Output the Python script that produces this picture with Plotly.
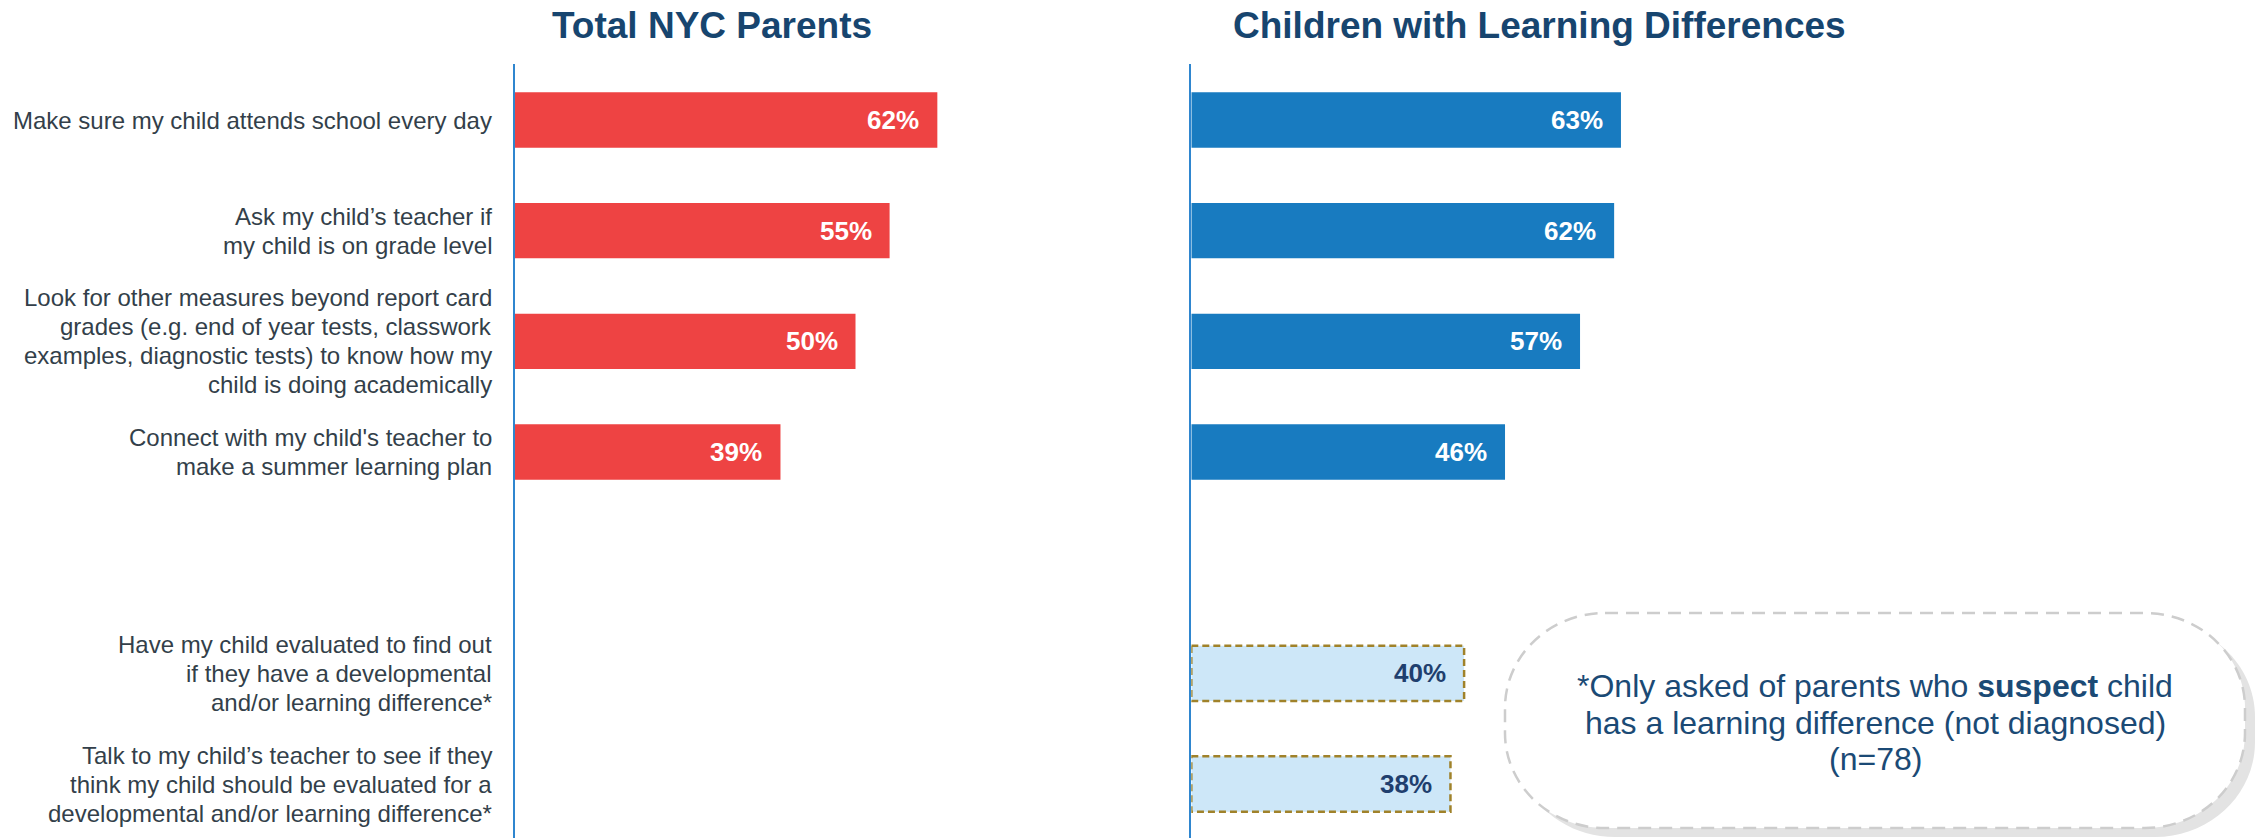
import plotly.graph_objects as go

# ---------------- data ----------------
main_categories = [
    "Make sure my child attends school every day",
    "Ask my child’s teacher if<br>my child is on grade level",
    "Look for other measures beyond report card<br>grades (e.g. end of year tests, classwork<br>examples, diagnostic tests) to know how my<br>child is doing academically",
    "Connect with my child's teacher to<br>make a summer learning plan",
]
suspect_categories = [
    "Have my child evaluated to find out<br>if they have a developmental<br>and/or learning difference*",
    "Talk to my child’s teacher to see if they<br>think my child should be evaluated for a<br>developmental and/or learning difference*",
]
total_nyc_parents = [62, 55, 50, 39]
children_ld = [63, 62, 57, 46]
suspect_values = [40, 38]

panel_titles = ["Total NYC Parents", "Children with Learning Differences"]
note_lines = [
    "*Only asked of parents who <b>suspect</b> child",
    "has a learning difference (not diagnosed)",
    "(n=78)",
]

# ---------------- styling ----------------
W, H = 2257, 838
RED = "#EE4343"
BLUE = "#187BC0"
LIGHT = "#CDE7F8"
GOLD = "#A0822A"
NAVY = "#17456F"
LABEL = "#333F4A"
AXIS = "#2F86CF"
FONT = "Arial, Liberation Sans, sans-serif"

SPACER = " "
cat_order = main_categories + [SPACER] + suspect_categories

px_per_pct = 6.82
left_x0 = 514.5
right_x0 = 1191.3
top_px = 64

def px(x):
    return x / W

def py(y):
    return 1 - y / H

fig = go.Figure()

fig.add_trace(go.Bar(
    y=main_categories, x=total_nyc_parents, orientation="h",
    marker=dict(color=RED, line=dict(width=0)), width=0.5,
    xaxis="x", yaxis="y", hoverinfo="skip", showlegend=False,
))
fig.add_trace(go.Bar(
    y=main_categories, x=children_ld, orientation="h",
    marker=dict(color=BLUE, line=dict(width=0)), width=0.5,
    xaxis="x2", yaxis="y2", hoverinfo="skip", showlegend=False,
))
fig.add_trace(go.Bar(
    y=suspect_categories, x=suspect_values, orientation="h",
    marker=dict(color=LIGHT, line=dict(width=0)), width=0.5,
    xaxis="x2", yaxis="y2", hoverinfo="skip", showlegend=False,
))

annotations = []
shapes = []

# value labels
def value_label(xref, yref, cat, v, color):
    annotations.append(dict(
        x=v, y=cat, xref=xref, yref=yref, text=f"<b>{v}%</b>",
        showarrow=False, xanchor="right", yanchor="middle", xshift=-16,
        font=dict(family=FONT, size=26, color=color),
    ))

for c, v in zip(main_categories, total_nyc_parents):
    value_label("x", "y", c, v, "white")
for c, v in zip(main_categories, children_ld):
    value_label("x2", "y2", c, v, "white")
for c, v in zip(suspect_categories, suspect_values):
    value_label("x2", "y2", c, v, "#1F3F6E")
    i = cat_order.index(c)
    shapes.append(dict(
        type="rect", xref="x2", yref="y2", x0=0, x1=v, y0=i - 0.25, y1=i + 0.25,
        line=dict(color=GOLD, width=2.5, dash="7px,4px"), fillcolor="rgba(0,0,0,0)",
        layer="above",
    ))

# category labels (per line for tight line spacing)
LINE_H = 29
for c in main_categories + suspect_categories:
    lines = c.split("<br>")
    n = len(lines)
    for k, ln in enumerate(lines):
        annotations.append(dict(
            x=px(494), y=c, xref="paper", yref="y", text=ln, showarrow=False,
            xanchor="right", yanchor="middle", yshift=((n - 1) / 2 - k) * LINE_H,
            font=dict(family=FONT, size=24, color=LABEL),
        ))

# panel titles
for t, cx in zip(panel_titles, [712, 1539]):
    annotations.append(dict(
        x=px(cx), y=py(25), xref="paper", yref="paper", text=f"<b>{t}</b>",
        showarrow=False, xanchor="center", yanchor="middle",
        font=dict(family=FONT, size=37, color=NAVY),
    ))

# callout box
def rounded_path(x0, y0, x1, y1, rx, ry):
    k = 0.5523
    def P(x, y):
        return f"{px(x):.5f},{py(y):.5f}"
    d = f"M {P(x0 + rx, y0)} L {P(x1 - rx, y0)} "
    d += f"C {P(x1 - rx + k * rx, y0)} {P(x1, y0 + ry - k * ry)} {P(x1, y0 + ry)} "
    d += f"L {P(x1, y1 - ry)} "
    d += f"C {P(x1, y1 - ry + k * ry)} {P(x1 - rx + k * rx, y1)} {P(x1 - rx, y1)} "
    d += f"L {P(x0 + rx, y1)} "
    d += f"C {P(x0 + rx - k * rx, y1)} {P(x0, y1 - ry + k * ry)} {P(x0, y1 - ry)} "
    d += f"L {P(x0, y0 + ry)} "
    d += f"C {P(x0, y0 + ry - k * ry)} {P(x0 + rx - k * rx, y0)} {P(x0 + rx, y0)} Z"
    return d

bx0, by0, bx1, by1 = 1505, 613, 2245, 828
shapes.append(dict(
    type="path", xref="paper", yref="paper",
    path=rounded_path(bx0 + 10, by0 + 9, bx1 + 10, by1 + 9, 100, 95),
    fillcolor="#E3E3E3", line=dict(width=0), layer="below",
))
shapes.append(dict(
    type="path", xref="paper", yref="paper",
    path=rounded_path(bx0, by0, bx1, by1, 100, 95),
    fillcolor="white", line=dict(color="#CDCDCD", width=2.5, dash="13px,8px"),
    layer="below",
))

for k, ln in enumerate(note_lines):
    annotations.append(dict(
        x=px(1875), y=py(686 + 36.5 * k), xref="paper", yref="paper", text=ln,
        showarrow=False, xanchor="center", yanchor="middle",
        font=dict(family=FONT, size=32, color="#1B4A75"),
    ))

# axes
y_top_idx = -(120 - top_px) / 110.67
y_bot_idx = (H - 120) / 110.67
ydom = [0, py(top_px)]
yax = dict(
    type="category", categoryorder="array", categoryarray=cat_order,
    range=[y_bot_idx, y_top_idx], domain=ydom,
    showline=True, linecolor=AXIS, linewidth=2, showticklabels=False,
    showgrid=False, zeroline=False, ticks="", fixedrange=True,
)
fig.update_layout(
    width=W, height=H,
    margin=dict(l=0, r=0, t=0, b=0),
    paper_bgcolor="white", plot_bgcolor="rgba(0,0,0,0)",
    barmode="overlay",
    xaxis=dict(domain=[px(left_x0), px(1150)], range=[0, (1150 - left_x0) / px_per_pct],
               visible=False, fixedrange=True),
    xaxis2=dict(domain=[px(right_x0), 1], range=[0, (W - right_x0) / px_per_pct],
                visible=False, fixedrange=True),
    yaxis=dict(anchor="x", **yax),
    yaxis2=dict(anchor="x2", matches="y", **yax),
    annotations=annotations,
    shapes=shapes,
    showlegend=False,
)

fig.write_html(
    "out.html",
    config={"displayModeBar": False},
    post_script="document.body.style.margin='0';document.body.style.overflow='hidden';",
)
